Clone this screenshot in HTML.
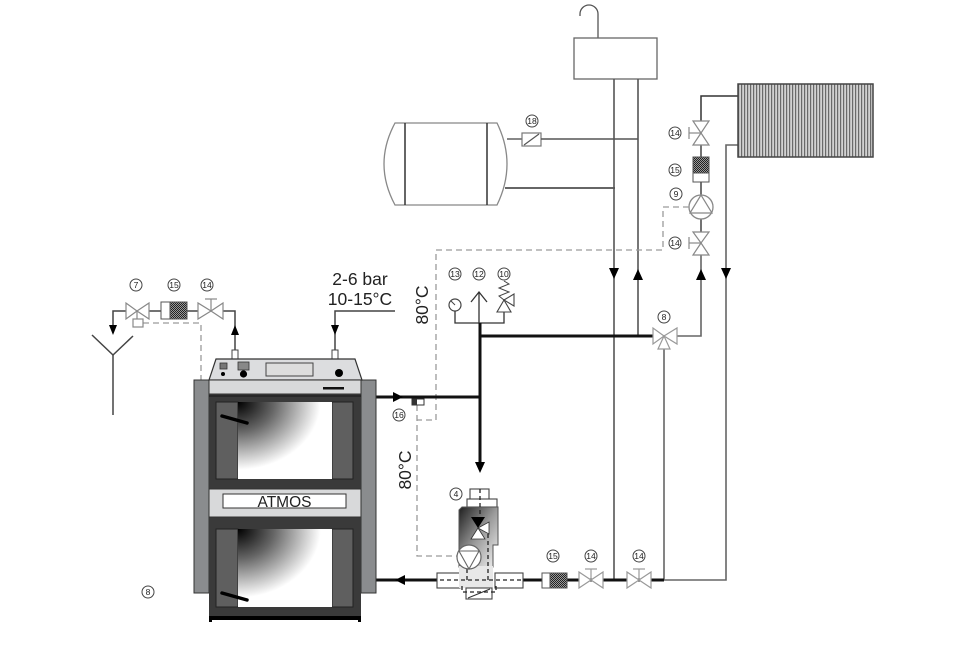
<!DOCTYPE html>
<html><head><meta charset="utf-8"><style>
html,body{margin:0;padding:0;background:#fff;}
svg{display:block;}
text{font-family:"Liberation Sans",sans-serif;}
</style></head><body>
<svg width="958" height="654" viewBox="0 0 958 654" xmlns="http://www.w3.org/2000/svg">
<defs>
<pattern id="rad" width="3" height="4" patternUnits="userSpaceOnUse"><rect width="3" height="4" fill="#d2d2d2"/><rect width="1.2" height="4" fill="#6a6a6a"/></pattern>
<pattern id="hat" width="2" height="2" patternUnits="userSpaceOnUse"><rect width="2" height="2" fill="#9a9a9a"/><rect width="1" height="1" fill="#222"/><rect x="1" y="1" width="1" height="1" fill="#222"/></pattern>
<radialGradient id="door" cx="0" cy="0" r="1.1" fx="0" fy="0"><stop offset="0" stop-color="#000"/><stop offset="0.35" stop-color="#666"/><stop offset="0.8" stop-color="#fff"/><stop offset="1" stop-color="#fff"/></radialGradient>
<linearGradient id="mv" x1="0" y1="0" x2="1" y2="1"><stop offset="0" stop-color="#1e1e1e"/><stop offset="0.5" stop-color="#9a9a9a"/><stop offset="1" stop-color="#f4f4f4"/></linearGradient>
</defs>

<!-- expansion tank top -->
<path d="M598,38 V14 A9,9 0 0 0 580,14 V16" fill="none" stroke="#555" stroke-width="1.3"/>
<rect x="574" y="38" width="83" height="41" fill="#fff" stroke="#666" stroke-width="1.3"/>

<!-- storage tank -->
<path d="M395,123 L497,123 Q517,164 497,205 L395,205 Q373,164 395,123 Z" fill="#fff" stroke="#888" stroke-width="1.3"/>
<line x1="405" y1="123" x2="405" y2="205" stroke="#333" stroke-width="1.5"/>
<line x1="487" y1="123" x2="487" y2="205" stroke="#333" stroke-width="1.5"/>
<line x1="507" y1="139" x2="522" y2="139" stroke="#555" stroke-width="1.4"/>
<rect x="522" y="133" width="19" height="13" fill="#fff" stroke="#777" stroke-width="1.2"/>
<line x1="524" y1="145" x2="539" y2="134" stroke="#555" stroke-width="1.2"/>
<line x1="541" y1="139" x2="638" y2="139" stroke="#555" stroke-width="1.5"/>
<line x1="505" y1="188" x2="615" y2="188" stroke="#333" stroke-width="1.5"/>

<!-- vertical risers -->
<line x1="614" y1="79" x2="614" y2="580" stroke="#555" stroke-width="1.6"/>
<line x1="638" y1="79" x2="638" y2="336" stroke="#555" stroke-width="1.6"/>
<line x1="664" y1="349" x2="664" y2="580" stroke="#666" stroke-width="1.6"/>
<polyline points="738,145 726,145 726,580 664,580" fill="none" stroke="#666" stroke-width="1.6"/>
<polyline points="738,96 701,96 701,121" fill="none" stroke="#333" stroke-width="1.5"/>
<line x1="701" y1="145" x2="701" y2="157" stroke="#444" stroke-width="1.5"/>
<line x1="701" y1="182" x2="701" y2="195" stroke="#444" stroke-width="1.5"/>
<line x1="701" y1="219" x2="701" y2="232" stroke="#444" stroke-width="1.5"/>
<polyline points="701,255 701,336 677,336" fill="none" stroke="#666" stroke-width="1.6"/>

<!-- radiator -->
<rect x="738" y="84" width="135" height="73" fill="url(#rad)" stroke="#444" stroke-width="1.5"/>

<!-- valve 14 upper -->
<polygon points="693,121 709,121 701,133" fill="#fff" stroke="#888" stroke-width="1.2"/>
<polygon points="693,145 709,145 701,133" fill="#fff" stroke="#888" stroke-width="1.2"/>
<line x1="701" y1="133" x2="689" y2="133" stroke="#888" stroke-width="1.2"/>
<line x1="689" y1="127" x2="689" y2="139" stroke="#888" stroke-width="1.2"/>
<!-- 15 -->
<rect x="693" y="157" width="16" height="16" fill="url(#hat)" stroke="#555" stroke-width="1"/>
<rect x="693" y="173" width="16" height="9" fill="#fff" stroke="#555" stroke-width="1"/>
<!-- pump 9 -->
<circle cx="701" cy="207" r="12" fill="#fff" stroke="#888" stroke-width="1.3"/>
<polygon points="701,195 690,213 712,213" fill="none" stroke="#888" stroke-width="1.2"/>
<!-- valve 14 lower -->
<polygon points="693,232 709,232 701,243" fill="#fff" stroke="#888" stroke-width="1.2"/>
<polygon points="693,255 709,255 701,243" fill="#fff" stroke="#888" stroke-width="1.2"/>
<line x1="701" y1="243" x2="689" y2="243" stroke="#888" stroke-width="1.2"/>
<line x1="689" y1="237" x2="689" y2="249" stroke="#888" stroke-width="1.2"/>

<!-- dashed control lines -->
<g fill="none" stroke="#9a9a9a" stroke-width="1.3" stroke-dasharray="6,4">
<polyline points="689,207 663,207 663,250 436,250 436,420 417,420"/>
<polyline points="417,405 417,556 457,556"/>
<polyline points="143,323 201,323 201,380"/>
</g>

<!-- valve 8 -->
<line x1="480" y1="336" x2="653" y2="336" stroke="#111" stroke-width="3"/>
<polygon points="653,328 653,344 664,336" fill="#fff" stroke="#999" stroke-width="1.2"/>
<polygon points="677,328 677,344 664,336" fill="#fff" stroke="#999" stroke-width="1.2"/>
<polygon points="664,336 658,349 670,349" fill="#fff" stroke="#999" stroke-width="1.2"/>

<!-- safety group -->
<circle cx="455" cy="305" r="6" fill="#fff" stroke="#444" stroke-width="1.2"/>
<line x1="455" y1="305" x2="451" y2="301" stroke="#444" stroke-width="1"/>
<polyline points="455,311 455,323 504,323 504,312" fill="none" stroke="#333" stroke-width="1.3"/>
<polyline points="471,302 479,292 487,302" fill="none" stroke="#333" stroke-width="1.3"/>
<line x1="479" y1="292" x2="479" y2="323" stroke="#333" stroke-width="1.3"/>
<polygon points="504,300 497,312 511,312" fill="#fff" stroke="#444" stroke-width="1.1"/>
<polygon points="504,300 514,294 514,306" fill="#fff" stroke="#444" stroke-width="1.1"/>
<polyline points="504,300 499,296 509,292 499,288 509,284 504,281" fill="none" stroke="#444" stroke-width="1"/>
<line x1="480" y1="323" x2="480" y2="464" stroke="#111" stroke-width="3"/>

<!-- boiler outlet -->
<line x1="376" y1="397" x2="481" y2="397" stroke="#111" stroke-width="3"/>
<rect x="412" y="399" width="12" height="6" fill="#fff" stroke="#333" stroke-width="1"/>
<rect x="412" y="399" width="5" height="6" fill="#333"/>

<!-- bottom return line -->
<line x1="376" y1="580" x2="437" y2="580" stroke="#111" stroke-width="3"/>
<line x1="523" y1="580" x2="664" y2="580" stroke="#111" stroke-width="3"/>
<rect x="542" y="573" width="8" height="15" fill="#fff" stroke="#555" stroke-width="1"/>
<rect x="550" y="573" width="17" height="15" fill="url(#hat)" stroke="#555" stroke-width="1"/>
<g fill="#fff" stroke="#999" stroke-width="1.2">
<polygon points="579,572 579,588 591,580"/><polygon points="603,572 603,588 591,580"/>
<polygon points="627,572 627,588 639,580"/><polygon points="651,572 651,588 639,580"/>
</g>
<g stroke="#999" stroke-width="1.2">
<line x1="591" y1="580" x2="591" y2="569"/><line x1="585" y1="569" x2="597" y2="569"/>
<line x1="639" y1="580" x2="639" y2="569"/><line x1="633" y1="569" x2="645" y2="569"/>
</g>

<!-- mixing valve 4 -->
<rect x="470" y="489" width="19" height="11" fill="#fff" stroke="#444" stroke-width="1.1"/>
<rect x="467" y="499" width="30" height="8" fill="#fff" stroke="#444" stroke-width="1.1"/>
<path d="M462,507 H498 V545 H493 V567 H459 V510 Z" fill="url(#mv)" stroke="#555" stroke-width="1"/>
<rect x="437" y="573" width="23" height="15" fill="#fff" stroke="#444" stroke-width="1.1"/>
<rect x="495" y="573" width="28" height="15" fill="#fff" stroke="#444" stroke-width="1.1"/>
<rect x="459" y="566" width="34" height="22" fill="#e8e8e8" stroke="none"/>
<rect x="466" y="588" width="26" height="11" fill="#fff" stroke="#444" stroke-width="1.1"/>
<line x1="468" y1="598" x2="490" y2="589" stroke="#333" stroke-width="1"/>
<g fill="none" stroke="#222" stroke-width="1.3" stroke-dasharray="4,3">
<line x1="480" y1="489" x2="480" y2="517"/>
<line x1="488" y1="534" x2="488" y2="580"/>
<line x1="440" y1="580" x2="522" y2="580"/>
<line x1="467" y1="569" x2="467" y2="580"/>
<polyline points="462,586 462,592 496,592 496,586"/>
</g>
<polygon points="471,517 485,517 478,528" fill="#000"/>
<polygon points="478,528 471,539 485,539" fill="#fff" stroke="#333" stroke-width="0.8"/>
<polygon points="478,528 489,522 489,534" fill="#fff" stroke="#333" stroke-width="0.8"/>
<circle cx="469" cy="557" r="12" fill="#fff" stroke="#666" stroke-width="1.2"/>
<polygon points="469,569 459,551 479,551" fill="none" stroke="#666" stroke-width="1.1"/>

<!-- left valves and funnel -->
<g fill="none" stroke="#444" stroke-width="1.5">
<polyline points="126,311 113,311 113,326"/>
<line x1="149" y1="311" x2="161" y2="311"/>
<line x1="187" y1="311" x2="198" y2="311"/>
<polyline points="223,311 235,311 235,350"/>
<polyline points="395,311 335,311 335,350"/>
<polyline points="92,335 113,355 133,336"/>
<line x1="113" y1="355" x2="113" y2="415"/>
</g>
<g fill="#fff" stroke="#888" stroke-width="1.2">
<polygon points="126,303 126,319 137,311"/><polygon points="149,303 149,319 137,311"/>
<rect x="133" y="319" width="10" height="8"/>
<polygon points="198,303 198,319 211,311"/><polygon points="223,303 223,319 211,311"/>
</g>
<line x1="137" y1="311" x2="137" y2="319" stroke="#888" stroke-width="1.2"/>
<line x1="211" y1="311" x2="211" y2="299" stroke="#888" stroke-width="1.2"/>
<line x1="205" y1="299" x2="217" y2="299" stroke="#888" stroke-width="1.2"/>
<rect x="161" y="302" width="9" height="17" fill="#fff" stroke="#555" stroke-width="1"/>
<rect x="170" y="302" width="17" height="17" fill="url(#hat)" stroke="#555" stroke-width="1"/>

<!-- arrows -->
<g fill="#000">
<polygon points="109,325 117,325 113,335"/>
<polygon points="231,335 239,335 235,325"/>
<polygon points="331,325 339,325 335,335"/>
<polygon points="393,392 393,402 403,397"/>
<polygon points="475,462 485,462 480,473"/>
<polygon points="405,575 405,585 395,580"/>
<polygon points="609,268 619,268 614,279"/>
<polygon points="633,280 643,280 638,269"/>
<polygon points="696,280 706,280 701,269"/>
<polygon points="721,268 731,268 726,279"/>
</g>

<!-- boiler -->
<rect x="232" y="350" width="6" height="9" fill="#fff" stroke="#444" stroke-width="1"/>
<rect x="332" y="350" width="6" height="9" fill="#fff" stroke="#444" stroke-width="1"/>
<rect x="194" y="380" width="15" height="213" fill="#8a8c8e" stroke="#333" stroke-width="1"/>
<rect x="361" y="380" width="15" height="213" fill="#8a8c8e" stroke="#333" stroke-width="1"/>
<rect x="209" y="392" width="152" height="225" fill="#3a3a3a"/>
<polygon points="216,359 355,359 362,380 209,380" fill="#dcdddf" stroke="#333" stroke-width="1.2"/>
<rect x="209" y="380" width="152" height="14" fill="#d8d9da" stroke="#333" stroke-width="1"/>
<line x1="209" y1="396" x2="361" y2="396" stroke="#222" stroke-width="1.5"/>
<rect x="220" y="363" width="7" height="6" fill="#777" stroke="#333" stroke-width="0.8"/>
<circle cx="223" cy="374" r="2" fill="#000"/>
<rect x="238" y="362" width="11" height="8" fill="#888" stroke="#333" stroke-width="0.8"/>
<circle cx="243.5" cy="374" r="3.6" fill="#000"/>
<rect x="266" y="363" width="47" height="13" fill="#ddd" stroke="#444" stroke-width="1"/>
<circle cx="339" cy="373" r="4" fill="#000"/>
<rect x="323" y="387" width="21" height="2.5" fill="#111"/>
<!-- upper door -->
<rect x="216" y="402" width="22" height="77" fill="#5f5f5f" stroke="#222" stroke-width="1"/>
<rect x="332" y="402" width="21" height="77" fill="#5f5f5f" stroke="#222" stroke-width="1"/>
<rect x="238" y="402" width="94" height="77" fill="url(#door)"/>
<line x1="222" y1="416" x2="247" y2="423" stroke="#000" stroke-width="3.5" stroke-linecap="round"/>
<!-- middle band -->
<rect x="209" y="489" width="152" height="28" fill="#d8d9da" stroke="#333" stroke-width="1"/>
<rect x="223" y="494" width="123" height="14" fill="#fff" stroke="#333" stroke-width="1"/>
<text x="284.5" y="507" font-size="15.5" text-anchor="middle" fill="#222">ATMOS</text>
<!-- lower door -->
<rect x="216" y="529" width="22" height="78" fill="#5f5f5f" stroke="#222" stroke-width="1"/>
<rect x="332" y="529" width="21" height="78" fill="#5f5f5f" stroke="#222" stroke-width="1"/>
<rect x="238" y="529" width="94" height="78" fill="url(#door)"/>
<line x1="222" y1="593" x2="247" y2="600" stroke="#000" stroke-width="3.5" stroke-linecap="round"/>
<rect x="209" y="616" width="152" height="6" fill="#000"/>
<rect x="212" y="620" width="146" height="2" fill="#fff"/>

<!-- texts -->
<text x="360" y="285" font-size="17.5" text-anchor="middle" fill="#222">2-6 bar</text>
<text x="360" y="305" font-size="17.5" text-anchor="middle" fill="#222">10-15°C</text>
<text transform="translate(428,305) rotate(-90)" font-size="17.5" text-anchor="middle" fill="#222">80°C</text>
<text transform="translate(411,470) rotate(-90)" font-size="17.5" text-anchor="middle" fill="#222">80°C</text>

<!-- number labels -->
<g fill="#fff" stroke="#444" stroke-width="1">
<circle cx="532" cy="121" r="6"/>
<circle cx="675" cy="133" r="6"/><circle cx="675" cy="170" r="6"/><circle cx="676" cy="194" r="6"/><circle cx="675" cy="243" r="6"/>
<circle cx="455" cy="274" r="6"/><circle cx="479" cy="274" r="6"/><circle cx="504" cy="274" r="6"/>
<circle cx="664" cy="317" r="6"/>
<circle cx="136" cy="285" r="6"/><circle cx="174" cy="285" r="6"/><circle cx="207" cy="285" r="6"/>
<circle cx="399" cy="415" r="6"/>
<circle cx="456" cy="494" r="6"/>
<circle cx="553" cy="556" r="6"/><circle cx="591" cy="556" r="6"/><circle cx="639" cy="556" r="6"/>
<circle cx="148" cy="592" r="6"/>
</g>
<g font-size="8.5" text-anchor="middle" fill="#222">
<text x="532" y="124">18</text>
<text x="675" y="136">14</text><text x="675" y="173">15</text><text x="676" y="197">9</text><text x="675" y="246">14</text>
<text x="455" y="277">13</text><text x="479" y="277">12</text><text x="504" y="277">10</text>
<text x="664" y="320">8</text>
<text x="136" y="288">7</text><text x="174" y="288">15</text><text x="207" y="288">14</text>
<text x="399" y="418">16</text>
<text x="456" y="497">4</text>
<text x="553" y="559">15</text><text x="591" y="559">14</text><text x="639" y="559">14</text>
<text x="148" y="595">8</text>
</g>
</svg>
</body></html>
